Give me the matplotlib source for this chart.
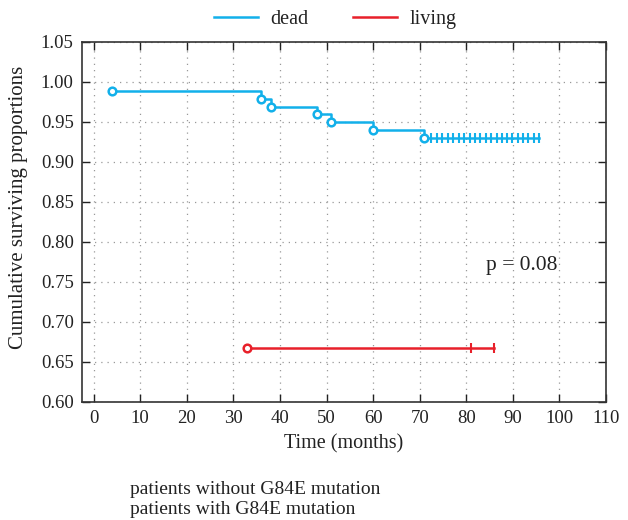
import matplotlib
matplotlib.use('Agg')
import matplotlib.pyplot as plt
from matplotlib.lines import Line2D

# blue curve: patients without G84E mutation
blue_t = [4, 36, 38, 48, 51, 60, 71]
blue_s = [0.989, 0.979, 0.969, 0.960, 0.950, 0.940, 0.930]
blue_end = 95.6
blue_cens = [72.5, 73.7, 74.8, 76.0, 77.2, 78.4, 79.5, 80.7, 81.8, 83.0, 84.2,
             85.3, 86.5, 87.7, 88.8, 89.9, 91.0, 92.2, 93.3, 94.5, 95.6]

# red curve: patients with G84E mutation
red_t = [33]
red_s = [0.668]
red_end = 86
red_cens = [81, 86]

BLUE = '#12b0ea'
RED = '#e8202a'

plt.rcParams['font.family'] = ['Liberation Serif', 'DejaVu Serif']
plt.rcParams['font.size'] = 12

fig = plt.figure(figsize=(6.28, 5.2), dpi=100)
ax = fig.add_axes([82 / 628, 1 - 402 / 520, (606 - 82) / 628, (402 - 42) / 520])


def km(ax, t, s, end, cens, color):
    xs = list(t) + [end]
    ys = list(s) + [s[-1]]
    ax.step(xs, ys, where='post', color=color, lw=1.8, zorder=3)
    ax.plot(t, s, 'o', ms=5.5, mfc='white', mec=color, mew=1.8, zorder=4)
    ax.plot(cens, [s[-1]] * len(cens), '|', ms=7, mew=1.5, color=color, zorder=4)


km(ax, blue_t, blue_s, blue_end, blue_cens, BLUE)
km(ax, red_t, red_s, red_end, red_cens, RED)

ax.set_xlim(-2.5, 110)
ax.set_ylim(0.60, 1.05)
ax.set_xticks(range(0, 111, 10))
ax.set_yticks([0.60 + 0.05 * i for i in range(10)])
ax.set_yticklabels([f'{0.60 + 0.05 * i:.2f}' for i in range(10)])
ax.tick_params(direction='in', top=True, right=True, length=6, width=1, pad=6,
               labelsize=13.5, colors='#222222')
ax.grid(True, ls=(0, (1, 4)), color='#999999', lw=0.9)
for sp in ax.spines.values():
    sp.set_color('#333333')
    sp.set_linewidth(1.2)

ax.set_xlabel('Time (months)', fontsize=14.5, color='#222222', labelpad=5)
ax.set_ylabel('Cumulative surviving proportions', fontsize=15, color='#222222')
ax.yaxis.set_label_coords(-0.103, 0.54)
ax.text(92, 0.771, 'p = 0.08', fontsize=15.5, ha='center', va='center', color='#222222')

handles = [Line2D([], [], color=BLUE, lw=1.8), Line2D([], [], color=RED, lw=1.8)]
fig.legend(handles, ['dead', 'living'], loc='center', bbox_to_anchor=(335 / 628, 1 - 19 / 520),
           ncol=2, frameon=False, fontsize=14.5, handlelength=2.2, columnspacing=2.2,
           handletextpad=0.6, labelcolor='#222222')

fig.text(130 / 628, 1 - 490 / 520, 'patients without G84E mutation', fontsize=14,
         va='center', color='#222222')
fig.text(130 / 628, 1 - 510 / 520, 'patients with G84E mutation', fontsize=14,
         va='center', color='#222222')

fig.savefig('out.png', dpi=100)
